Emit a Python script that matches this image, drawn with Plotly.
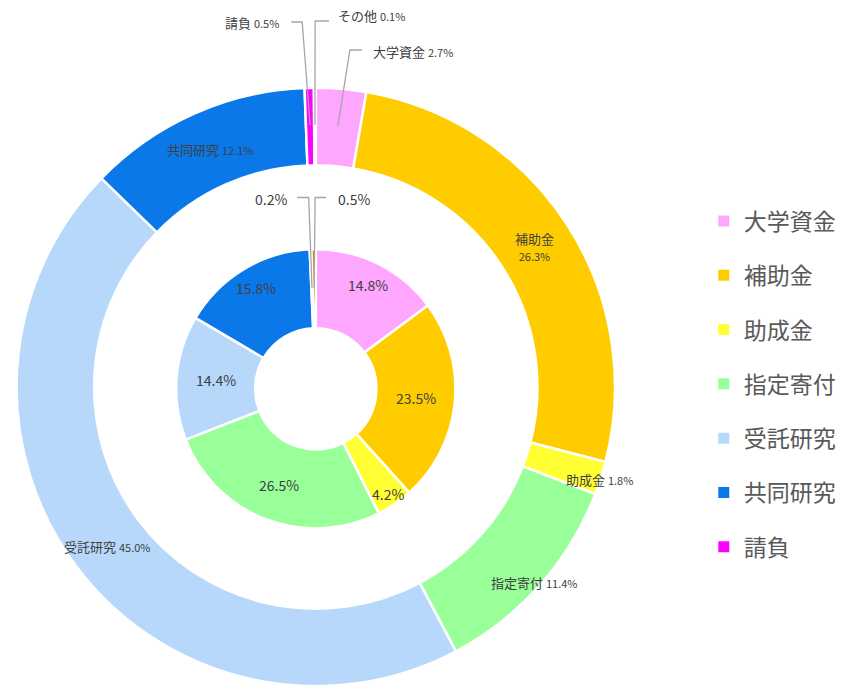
import math
import plotly.graph_objects as go

# ---------------- data ----------------
categories = ['大学資金', '補助金', '助成金', '指定寄付', '受託研究', '共同研究', '請負', 'その他']
outer_values = [2.7, 26.3, 1.8, 11.4, 45.0, 12.1, 0.5, 0.1]
inner_values = [14.8, 23.5, 4.2, 26.5, 14.4, 15.8, 0.2, 0.5]
legend_categories = ['大学資金', '補助金', '助成金', '指定寄付', '受託研究', '共同研究', '請負']

# ---------------- style ----------------
colors = {
    '大学資金': '#FFA6FF',
    '補助金': '#FFCC00',
    '助成金': '#FFFF33',
    '指定寄付': '#99FF99',
    '受託研究': '#B7D8FA',
    '共同研究': '#0A78E8',
    '請負': '#FF00FF',
    'その他': '#BF9000',
}
FONT = 'Noto Sans CJK JP'
TXT = '#404040'
LEADER = '#A6A6A6'

W, H = 841, 688
CX = 317.7
OUT_CY, IN_CY = 387.0, 388.8
R_OUT, R_OUT_HOLE = 301.0, 223.0
R_IN, R_IN_HOLE = 140.5, 61.0
LABEL_CY = 388.5

# label radius (px) for labels drawn on the rings
outer_label_r = {'補助金': 262, '助成金': 300, '指定寄付': 293, '受託研究': 263, '共同研究': 262}
inner_label_r = {'大学資金': 116, '補助金': 101, '助成金': 128, '指定寄付': 103, '受託研究': 101, '共同研究': 117}
# callout labels (absolute px): elbow point, end of horizontal part, text anchor
outer_callouts = {
    '大学資金': dict(elbow=(352, 50), hend=(364, 50), text=(373, 51.5), anchor='left'),
    '請負': dict(elbow=(304, 22), hend=(293, 22), text=(283, 23), anchor='right'),
    'その他': dict(elbow=(317, 21), hend=(331, 21), text=(338, 15.5), anchor='left'),
}
inner_callouts = {
    '請負': dict(elbow=(310.5, 197.5), hend=(299, 197.5), text=(291, 199), anchor='right'),
    'その他': dict(elbow=(317, 197.5), hend=(328, 197.5), text=(338, 199), anchor='left'),
}
LEGEND_FONT = 23
LEGEND_PITCH = 54.3


def px(x, y):
    return x / W, 1 - y / H


def domain(cy, r):
    return dict(x=[(CX - r) / W, (CX + r) / W], y=[max(0.0, 1 - (cy + r) / H), 1 - (cy - r) / H])


def mid_angles(values):
    total = sum(values)
    out, cum = [], 0.0
    for v in values:
        out.append((cum + v / 2) / total * 360.0)
        cum += v
    return out


def polar(angle_deg, r, cy):
    a = math.radians(angle_deg)
    return CX + r * math.sin(a), cy - r * math.cos(a)


fig = go.Figure()

for vals, cy, r, hole in [(outer_values, OUT_CY, R_OUT, R_OUT_HOLE / R_OUT),
                          (inner_values, IN_CY, R_IN, R_IN_HOLE / R_IN)]:
    fig.add_trace(go.Pie(
        labels=categories, values=vals, sort=False, direction='clockwise', rotation=0,
        hole=hole, domain=domain(cy, r), textinfo='none', showlegend=False,
        marker=dict(colors=[colors[c] for c in categories], line=dict(color='white', width=2.5)),
    ))

annotations = []
shapes = []


def pct(v):
    return f'{v:.1f}%'


# outer ring labels
om = mid_angles(outer_values)
for cat, v, ang in zip(categories, outer_values, om):
    if cat in outer_label_r:
        x, y = polar(ang, outer_label_r[cat], LABEL_CY)
        if cat == '補助金':
            text = f"{cat}<br><span style='font-size:11px'>{pct(v)}</span>"
        else:
            text = f"{cat} <span style='font-size:11px'>{pct(v)}</span>"
        xp, yp = px(x, y)
        annotations.append(dict(x=xp, y=yp, xref='paper', yref='paper', text=text, showarrow=False,
                                xanchor='center', yanchor='middle', font=dict(family=FONT, size=13, color=TXT)))
    elif cat in outer_callouts:
        c = outer_callouts[cat]
        sx, sy = polar(ang, (R_OUT + R_OUT_HOLE) / 2, OUT_CY)
        pts = [px(sx, sy), px(*c['elbow']), px(*c['hend'])]
        path = 'M {} {} L {} {} L {} {}'.format(*[p for pt in pts for p in pt])
        shapes.append(dict(type='path', xref='paper', yref='paper', path=path,
                           line=dict(color=LEADER, width=1.3)))
        xp, yp = px(*c['text'])
        text = f"{cat} <span style='font-size:11px'>{pct(v)}</span>"
        annotations.append(dict(x=xp, y=yp, xref='paper', yref='paper', text=text, showarrow=False,
                                xanchor=c['anchor'], yanchor='middle', font=dict(family=FONT, size=13, color=TXT)))

# inner ring labels
im = mid_angles(inner_values)
for cat, v, ang in zip(categories, inner_values, im):
    if cat in inner_label_r:
        x, y = polar(ang, inner_label_r[cat], LABEL_CY)
        xp, yp = px(x, y)
        annotations.append(dict(x=xp, y=yp, xref='paper', yref='paper', text=pct(v), showarrow=False,
                                xanchor='center', yanchor='middle', font=dict(family=FONT, size=14, color=TXT)))
    elif cat in inner_callouts:
        c = inner_callouts[cat]
        sx, sy = polar(ang, (R_IN + R_IN_HOLE) / 2, IN_CY)
        pts = [px(sx, sy), px(*c['elbow']), px(*c['hend'])]
        path = 'M {} {} L {} {} L {} {}'.format(*[p for pt in pts for p in pt])
        shapes.append(dict(type='path', xref='paper', yref='paper', path=path,
                           line=dict(color=LEADER, width=1.3)))
        xp, yp = px(*c['text'])
        annotations.append(dict(x=xp, y=yp, xref='paper', yref='paper', text=pct(v), showarrow=False,
                                xanchor=c['anchor'], yanchor='middle', font=dict(family=FONT, size=14, color=TXT)))

# legend entries (one group per category so that spacing can be set)
for cat in legend_categories:
    fig.add_trace(go.Scatter(
        x=[None], y=[None], mode='markers', name=cat, legendgroup=cat, showlegend=True,
        marker=dict(symbol='square', size=11, color=colors[cat]), hoverinfo='skip',
    ))

item_h = LEGEND_FONT * 1.3 + 3
fig.update_layout(
    width=W, height=H,
    margin=dict(l=0, r=0, t=0, b=0),
    paper_bgcolor='white', plot_bgcolor='white',
    xaxis=dict(visible=False), yaxis=dict(visible=False),
    annotations=annotations, shapes=shapes,
    legend=dict(x=708 / W, y=1 - 199.5 / H, xanchor='left', yanchor='top',
                font=dict(family=FONT, size=LEGEND_FONT, color='#595959'),
                tracegroupgap=LEGEND_PITCH - item_h, bgcolor='rgba(0,0,0,0)'),
    font=dict(family=FONT),
)

fig.write_html('out.html')
